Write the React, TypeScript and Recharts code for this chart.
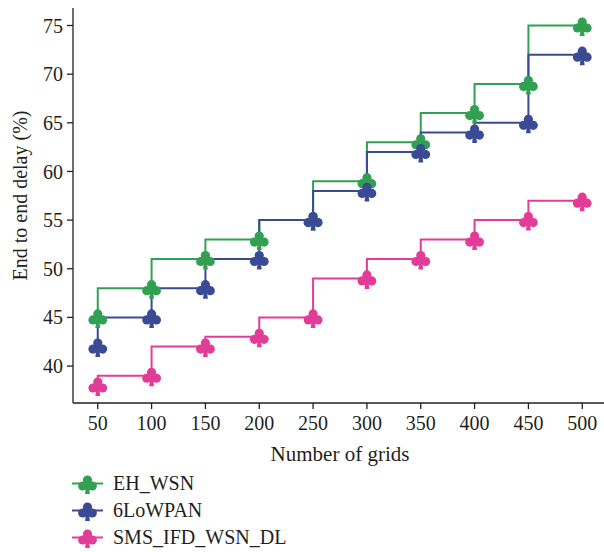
import { LineChart, Line, XAxis, YAxis, Legend } from 'recharts';

const grids = [50, 100, 150, 200, 250, 300, 350, 400, 450, 500];
const ehWsn = [45, 48, 51, 53, 55, 59, 63, 66, 69, 75];
const lowpan = [42, 45, 48, 51, 55, 58, 62, 64, 65, 72];
const smsIfd = [38, 39, 42, 43, 45, 49, 51, 53, 55, 57];
const seriesNames = ['EH_WSN', '6LoWPAN', 'SMS_IFD_WSN_DL'];
const xTicks = grids;
const yTicks = [40, 45, 50, 55, 60, 65, 70, 75];

const COLORS = {
  eh: '#31a052',
  lowpan: '#3a4a94',
  sms: '#e23c98',
};

const AXIS = '#231f20';
const FONT = '"Liberation Serif", "DejaVu Serif", serif';

const data = grids.map((g, i) => ({
  grid: g,
  eh: ehWsn[i],
  lowpan: lowpan[i],
  sms: smsIfd[i],
}));

function Club({ cx, cy, color }: { cx: number; cy: number; color: string }) {
  return (
    <g fill={color}>
      <circle cx={cx} cy={cy - 3.5} r={4.6} />
      <circle cx={cx - 4.8} cy={cy + 2.5} r={4.6} />
      <circle cx={cx + 4.8} cy={cy + 2.5} r={4.6} />
      <path d={`M${cx - 1.2},${cy} L${cx + 1.2},${cy} L${cx + 2.4},${cy + 10.5} L${cx - 2.4},${cy + 10.5} Z`} />
    </g>
  );
}

function clubDot(color: string) {
  return (p: any) => {
    if (p.cx == null || p.cy == null) return <g key={`e-${p.index}`} />;
    return (
      <g key={`${p.dataKey}-${p.index}`}>
        <Club cx={p.cx} cy={p.cy} color={color} />
      </g>
    );
  };
}

function LegendContent({ payload }: { payload?: Array<{ value?: string; color?: string }> }) {
  if (!payload) return null;
  // keep the drawing order, not the alphabetical one
  const items = [...payload].sort(
    (a, b) => seriesNames.indexOf(a.value ?? '') - seriesNames.indexOf(b.value ?? ''),
  );
  return (
    <div style={{ fontFamily: FONT, fontSize: 20, color: '#231f20' }}>
      {items.map((entry, idx) => (
        <div
          key={`${entry.value}-${idx}`}
          style={{ display: 'flex', alignItems: 'center', height: 27 }}
        >
          <svg width={31} height={27} style={{ marginRight: 10 }}>
            <line x1={0} x2={31} y1={13.5} y2={13.5} stroke={entry.color} strokeWidth={2} />
            <Club cx={15.5} cy={13.5} color={entry.color ?? '#000'} />
          </svg>
          <span style={{ lineHeight: '27px' }}>{entry.value}</span>
        </div>
      ))}
    </div>
  );
}

export default function App() {
  return (
    <div
      style={{
        position: 'absolute',
        left: 0,
        top: 0,
        width: 604,
        height: 552,
        overflow: 'hidden',
        background: '#fff',
      }}
    >
      <LineChart
        width={607}
        height={552}
        data={data}
        margin={{ top: 8, right: 0, bottom: 89, left: 0 }}
      >
        <XAxis
          dataKey="grid"
          type="number"
          domain={[27, 523]}
          ticks={xTicks}
          allowDataOverflow
          tickSize={6}
          tickMargin={7}
          height={60}
          stroke={AXIS}
          strokeWidth={1.3}
          tick={{ fill: AXIS, fontSize: 20, fontFamily: FONT }}
          label={{
            value: 'Number of grids',
            position: 'insideBottom',
            offset: 2,
            fill: AXIS,
            fontSize: 21,
            fontFamily: FONT,
          }}
        />
        <XAxis
          xAxisId="top"
          dataKey="grid"
          type="number"
          orientation="top"
          domain={[27, 523]}
          allowDataOverflow
          height={0}
          tick={false}
          tickLine={false}
          stroke={AXIS}
          strokeWidth={1.3}
        />
        <YAxis
          type="number"
          domain={[36.2, 76.8]}
          ticks={yTicks}
          allowDataOverflow
          width={73}
          tickSize={6}
          tickMargin={4}
          stroke={AXIS}
          strokeWidth={1.3}
          tick={{ fill: AXIS, fontSize: 20, fontFamily: FONT }}
          label={{
            value: 'End to end delay (%)',
            angle: -90,
            position: 'center',
            dx: -16.5,
            dy: -10,
            fill: AXIS,
            fontSize: 20,
            fontFamily: FONT,
          }}
        />
        <Legend
          layout="horizontal"
          verticalAlign="middle"
          align="center"
          content={<LegendContent />}
          wrapperStyle={{ left: 72, top: 470, width: 320, height: 81 }}
        />
        <Line
          dataKey="eh"
          name="EH_WSN"
          type="stepBefore"
          stroke={COLORS.eh}
          strokeWidth={2}
          dot={clubDot(COLORS.eh)}
          activeDot={false}
          isAnimationActive={false}
        />
        <Line
          dataKey="lowpan"
          name="6LoWPAN"
          type="stepBefore"
          stroke={COLORS.lowpan}
          strokeWidth={2}
          dot={clubDot(COLORS.lowpan)}
          activeDot={false}
          isAnimationActive={false}
        />
        <Line
          dataKey="sms"
          name="SMS_IFD_WSN_DL"
          type="stepBefore"
          stroke={COLORS.sms}
          strokeWidth={2}
          dot={clubDot(COLORS.sms)}
          activeDot={false}
          isAnimationActive={false}
        />
      </LineChart>
    </div>
  );
}
